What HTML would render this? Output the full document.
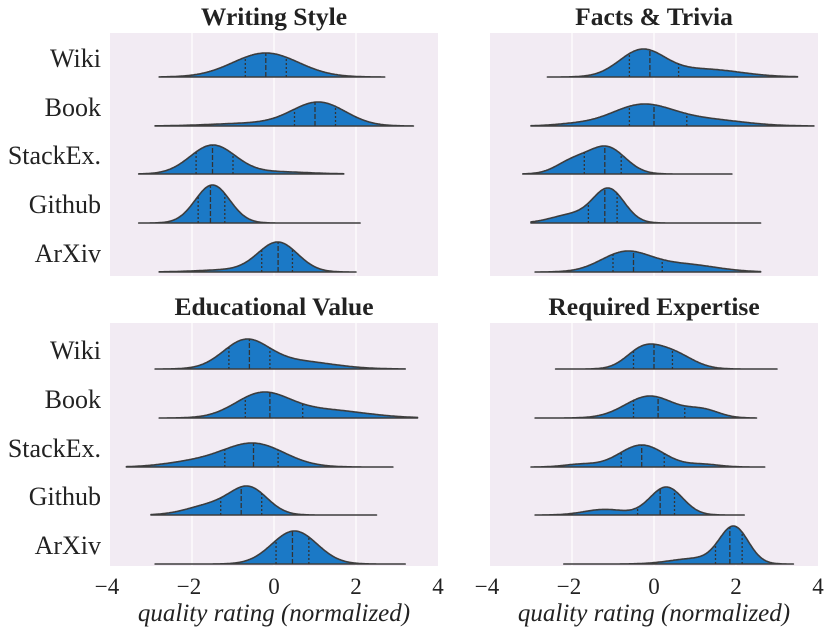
<!DOCTYPE html>
<html><head><meta charset="utf-8"><style>
body{margin:0;background:#fff;}
svg{display:block;font-family:"Liberation Serif",serif;}
</style></head><body>
<svg id="s" width="831" height="634" xmlns="http://www.w3.org/2000/svg"></svg>
<script>
const S=document.getElementById('s');
let out='';
const panels=[
 {x0:110,y0:33,title:"Writing Style",base:[77,126,174,223,272],v:[
  [-2.8,2.7,24,[-0.7,-0.2,0.3],[[-0.2,0.8,1]]],
  [-2.9,3.4,24,[0.5,1.0,1.5],[[1.1,0.65,1],[-0.5,1.0,0.12]]],
  [-3.3,1.7,29,[-1.9,-1.5,-1.0],[[-1.5,0.55,1],[0,0.8,0.08]]],
  [-3.3,2.1,38,[-1.85,-1.55,-1.2],[[-1.5,0.42,1]]],
  [-2.8,2.0,30,[-0.3,0.1,0.45],[[0.1,0.48,1],[-1,0.8,0.08]]]]},
 {x0:490,y0:33,title:"Facts & Trivia",base:[77,126,174,223,272],v:[
  [-2.6,3.5,28,[-0.6,-0.1,0.6],[[-0.3,0.55,1],[1.2,0.9,0.3]]],
  [-3.0,3.9,22,[-0.6,0,0.8],[[-0.3,0.75,1],[1.3,0.9,0.3],[-2,0.5,0.08]]],
  [-3.2,1.9,28,[-1.7,-1.2,-0.8],[[-1.15,0.45,1],[-2,0.4,0.45]]],
  [-3.0,2.6,35,[-1.6,-1.2,-0.9],[[-1.1,0.38,1],[-2,0.5,0.25]]],
  [-2.9,2.6,21,[-1.0,-0.5,0.2],[[-0.7,0.6,1],[0.7,0.8,0.4]]]]},
 {x0:110,y0:323,title:"Educational Value",base:[369,418,467,515,564],v:[
  [-2.9,3.2,30,[-1.1,-0.6,-0.1],[[-0.7,0.55,1],[0.5,0.9,0.3]]],
  [-2.8,3.5,26,[-0.7,-0.1,0.7],[[-0.3,0.65,1],[1.2,1.0,0.35]]],
  [-3.6,2.9,24,[-1.2,-0.5,0.1],[[-0.5,0.75,1],[-2,0.7,0.2]]],
  [-3.0,2.5,29,[-1.3,-0.8,-0.3],[[-0.6,0.45,1],[-1.5,0.6,0.4]]],
  [-2.9,3.2,33,[0.05,0.45,0.85],[[0.5,0.55,1]]]]},
 {x0:490,y0:323,title:"Required Expertise",base:[369,418,467,515,564],v:[
  [-2.4,3.0,25,[-0.5,0,0.45],[[-0.3,0.4,1],[0.4,0.5,1]]],
  [-2.9,2.5,22,[-0.5,0.1,0.75],[[-0.1,0.6,1],[1.2,0.4,0.35]]],
  [-3.0,2.7,22,[-0.8,-0.3,0.25],[[-0.3,0.55,1],[1.2,0.4,0.12],[-1.8,0.4,0.12]]],
  [-2.9,2.2,28,[-0.4,0.15,0.5],[[0.3,0.4,1],[-1.2,0.5,0.2]]],
  [-2.2,3.4,38,[1.5,1.85,2.15],[[1.95,0.35,1],[1.0,0.6,0.15]]]]}
];
const U=41,W=328;
const labels=["Wiki","Book","StackEx.","Github","ArXiv"];
panels.forEach((p,pi)=>{
 const zero=p.x0+4*U, h=243;
 out+=`<rect x="${p.x0}" y="${p.y0}" width="${W}" height="${h}" fill="#f2ebf3"/>`;
 [-2,0,2].forEach(t=>{const x=zero+t*U;out+=`<line x1="${x}" y1="${p.y0}" x2="${x}" y2="${p.y0+h}" stroke="#fff" stroke-width="1.2"/>`;});
 out+=`<text x="${p.x0+W/2}" y="${p.y0-8}" text-anchor="middle" font-weight="bold" font-size="25.5" fill="#222">${p.title.replace('&','&amp;')}</text>`;
 p.v.forEach((v,i)=>{
  const [mn,mx,ph,q,comps]=v, b=p.base[i];
  const f=x=>comps.reduce((a,c)=>a+c[2]*Math.exp(-0.5*((x-c[0])/c[1])**2),0);
  let pk=0;for(let x=mn;x<=mx;x+=0.01)pk=Math.max(pk,f(x));
  const y=x=>b-f(x)/pk*ph;
  let d=`M${zero+mn*U},${b}`;
  for(let x=mn;x<=mx+1e-6;x+=0.02)d+=`L${(zero+x*U).toFixed(1)},${y(x).toFixed(1)}`;
  d+=`L${zero+mx*U},${b}Z`;
  out+=`<path d="${d}" fill="#1b79c6" stroke="#3d3d3d" stroke-width="1.6" stroke-linejoin="round"/>`;
  q.forEach((qq,k)=>{const x=zero+qq*U;out+=`<line x1="${x}" y1="${b}" x2="${x}" y2="${y(qq)}" stroke="#333" stroke-width="1.3" stroke-dasharray="${k==1?'5,2':'2,2'}"/>`;});
  if(pi%2==0) out+=`<text x="101" y="${b-10}" text-anchor="end" font-size="26" fill="#222">${labels[i]}</text>`;
 });
 if(pi>=2){
  [-4,-2,0,2,4].forEach(t=>{out+=`<text x="${zero+t*U-(t<0?3:0)}" y="594" text-anchor="middle" font-size="23" fill="#222">${t<0?'\u2212'+(-t):t}</text>`;});
  out+=`<text x="${p.x0+W/2}" y="621" text-anchor="middle" font-style="italic" font-size="25" fill="#222">quality rating (normalized)</text>`;
 }
});
S.innerHTML=out;
</script>
</body></html>
